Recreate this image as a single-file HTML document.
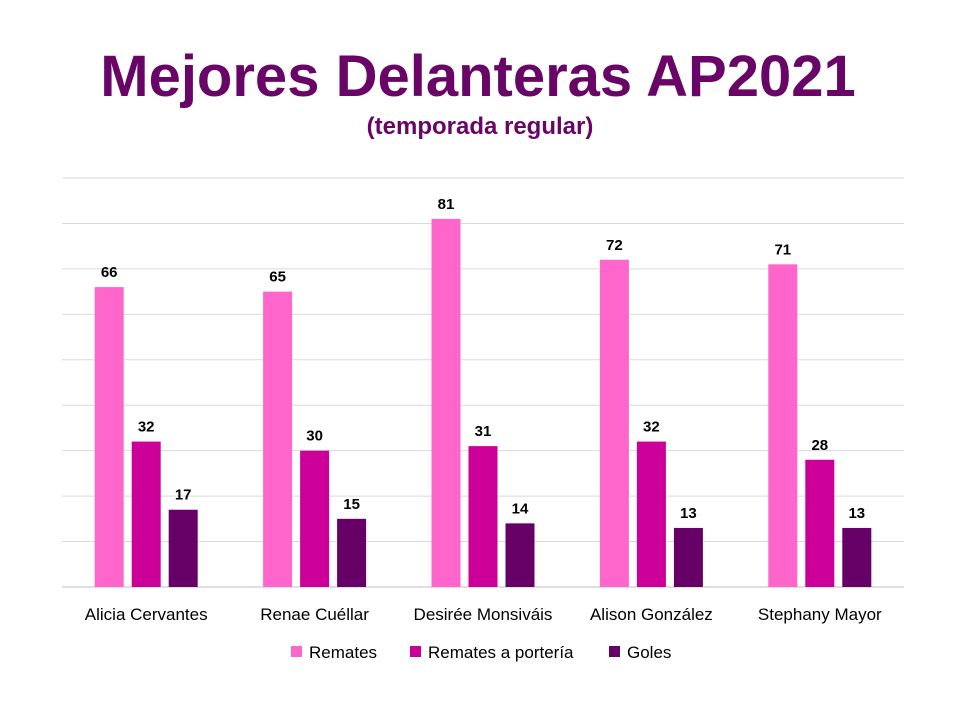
<!DOCTYPE html>
<html><head><meta charset="utf-8"><style>
body{margin:0;background:#fff;font-family:"Liberation Sans",sans-serif}
</style></head><body>
<svg width="960" height="720" xmlns="http://www.w3.org/2000/svg">
<rect width="960" height="720" fill="#fff"/>
<text x="478" y="96" text-anchor="middle" font-family="Liberation Sans, sans-serif" font-weight="bold" font-size="58" fill="#680566">Mejores Delanteras AP2021</text>
<text x="480" y="134" text-anchor="middle" font-family="Liberation Sans, sans-serif" font-weight="bold" font-size="24" fill="#680566">(temporada regular)</text>
<g id="grid"></g><g id="bars"></g><g id="labels"></g><g id="legend"></g>
</svg>
<script>
const categories=["Alicia Cervantes","Renae Cuéllar","Desirée Monsiváis","Alison González","Stephany Mayor"];
const seriesNames=["Remates","Remates a portería","Goles"];
const remates=[66,65,81,72,71];
const rematesPorteria=[32,30,31,32,28];
const goles=[17,15,14,13,13];
const gridTicks=[0,10,20,30,40,50,60,70,80,90];
const colors=["#FF66CC","#CC0099","#660066"];
const NS="http://www.w3.org/2000/svg";
const x0=62,x1=904,yBase=587,yTop=178,vmax=90;
const y=v=>yBase-(v/vmax)*(yBase-yTop);
const gw=(x1-x0)/categories.length;
const bw=29,gap=8;
function mk(t,a,p){const e=document.createElementNS(NS,t);for(const k in a)e.setAttribute(k,a[k]);p.appendChild(e);return e;}
const grid=document.getElementById('grid');
gridTicks.forEach(t=>{const l=mk('line',{x1:x0,x2:x1,y1:y(t),y2:y(t),stroke:t===0?'#bfbfbf':'#d9d9d9','stroke-width':1},grid);

});
const data=[remates,rematesPorteria,goles];
const bars=document.getElementById('bars'),labels=document.getElementById('labels');
categories.forEach((c,i)=>{
 const cx=x0+gw*(i+0.5);
 data.forEach((s,j)=>{
  const bx=cx-bw*1.5-gap+j*(bw+gap);
  const r=mk('rect',{x:bx,y:y(s[i]),width:bw,height:yBase-y(s[i]),fill:colors[j]},bars);
  
  
  const t=mk('text',{x:bx+bw/2,y:y(s[i])-10,'text-anchor':'middle','font-size':15,'font-weight':'bold',fill:'#000'},labels);
  t.textContent=s[i];
  
  
 });
 const ct=mk('text',{x:cx,y:620,'text-anchor':'middle','font-size':17,fill:'#000'},labels);
 ct.textContent=c;
 
 
});
const lg=document.getElementById('legend');
const lx=[291,410,609];
seriesNames.forEach((n,j)=>{
 const r=mk('rect',{x:lx[j],y:646,width:11,height:11,fill:colors[j]},lg);
 
 
 const t=mk('text',{x:lx[j]+18,y:658,'font-size':17,fill:'#000'},lg);
 t.textContent=n;
 
 
});
</script>
</body></html>
